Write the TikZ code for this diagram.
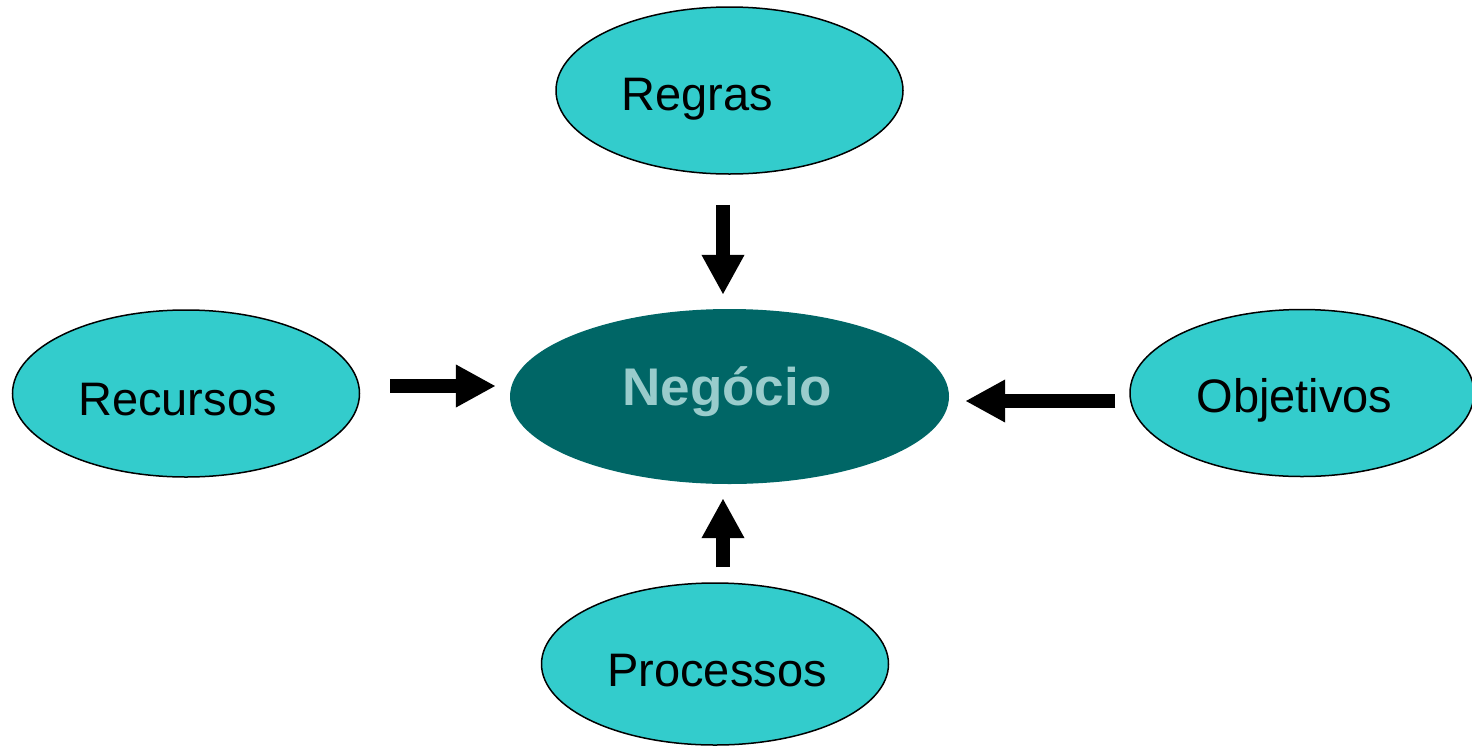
\documentclass[tikz,border=0pt]{standalone}
\usepackage{fontspec}
\setmainfont{Liberation Sans}
\usetikzlibrary{shapes.geometric,arrows.meta}

\definecolor{lightteal}{HTML}{33CCCC}
\definecolor{darkteal}{HTML}{006666}
\definecolor{paleteal}{HTML}{99CCCC}

\begin{document}
\begin{tikzpicture}[x=1pt,y=-1pt,
  topic/.style={ellipse, draw=black, line width=1.5pt, fill=lightteal,
    minimum width=347pt, minimum height=167pt, inner sep=0pt},
  core/.style={ellipse, fill=darkteal, minimum width=439pt,
    minimum height=175pt, inner sep=0pt},
  topictext/.style={anchor=base, inner sep=0pt, text=black,
    font=\fontsize{47}{52}\selectfont},
  coretext/.style={anchor=base, inner sep=0pt, text=paleteal,
    font=\bfseries\fontsize{53}{58}\selectfont},
  blockarrow/.style={draw=black, line width=14.5pt,
    -{Triangle[length=40pt,width=40pt]}}
]
\useasboundingbox (0,0) rectangle (1472,745);
\clip (0,0) rectangle (1472,745);

% central topic
\node[core] (negocio) at (729.5,396.5) {};
\node[coretext] (negocio-t) at (727,405) {Negócio};

% surrounding topics
\node[topic] (regras) at (729.5,90.5) {};
\node[topictext] (regras-t) at (697,110) {Regras};

\node[topic] (recursos) at (186,393.5) {};
\node[topictext] (recursos-t) at (177.5,415) {Recursos};

\node[topic, minimum width=344pt] (objetivos) at (1302,393) {};
\node[topictext] (objetivos-t) at (1294.5,412) {Objetivos};

\node[topic, minimum height=162pt] (processos) at (715,664) {};
\node[topictext] (processos-t) at (717,686) {Processos};

% arrow axes
\coordinate (vx) at (723,0);
\coordinate (lhy) at (0,386);
\coordinate (rhy) at (0,401);

% block arrows pointing to the centre
\draw[blockarrow, shorten <=30pt, shorten >=14pt]
  (regras.south -| vx) -- (negocio.north -| vx);
\draw[blockarrow, shorten <=15pt, shorten >=14pt]
  (processos.north -| vx) -- (negocio.south -| vx);
\draw[blockarrow, shorten <=30pt, shorten >=14pt]
  (recursos.east |- lhy) -- (negocio.west |- lhy);
\draw[blockarrow, shorten <=14pt, shorten >=16pt]
  (objetivos.west |- rhy) -- (negocio.east |- rhy);
\end{tikzpicture}
\end{document}
